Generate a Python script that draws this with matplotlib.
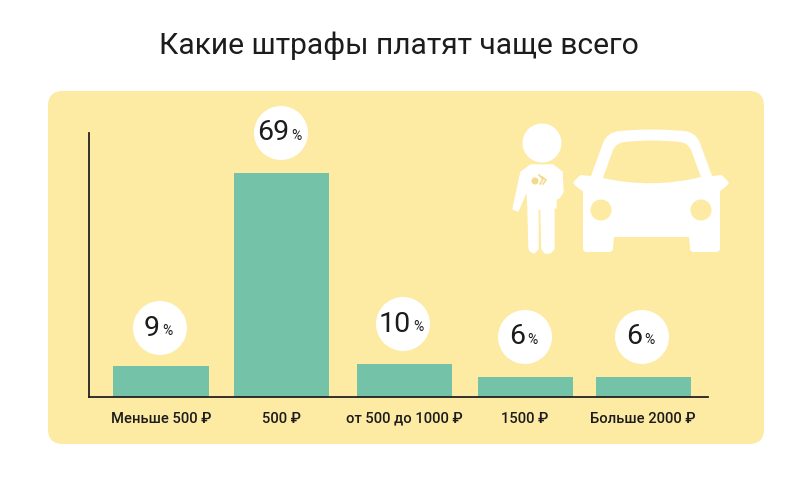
import matplotlib
matplotlib.use('Agg')
import matplotlib.pyplot as plt
from matplotlib.patches import FancyBboxPatch, Circle, Polygon, PathPatch
from matplotlib.path import Path

plt.rcParams['font.family'] = ['Roboto', 'DejaVu Sans']

categories = ['Меньше 500 ₽', '500 ₽', 'от 500 до 1000 ₽', '1500 ₽', 'Больше 2000 ₽']
values = [9, 69, 10, 6, 6]
# bar lengths as drawn in the picture, slightly off the printed numbers
bar_heights = [9.4, 68.8, 10.2, 6.2, 6.2]
bar_x = [161, 281, 404, 525, 643]
bubble_x = [160, 281, 403, 525, 642]
bubble_y = [328, 133, 324, 337, 337]

panel_color = '#fdeaa3'
bar_color = '#74c2a8'
text_color = '#1c1c1c'

fig = plt.figure(figsize=(8, 4.97), dpi=100, facecolor='white')

# whole figure in pixels, for the panel and the picture
bg = fig.add_axes([0, 0, 1, 1])
bg.set_xlim(0, 800)
bg.set_ylim(497, 0)
bg.axis('off')

bg.add_patch(FancyBboxPatch((48, 91), 716, 353, boxstyle='round,pad=0,rounding_size=15',
                            fc=panel_color, ec='none'))
bg.text(399, 46, 'Какие штрафы платят чаще всего', fontsize=21.6, color=text_color,
        ha='center', va='center')

# person
bg.add_patch(Circle((542, 143), 19.5, fc='white', ec='none'))
body = [(531, 165), (553, 165), (562, 172), (563, 192), (559, 198), (556, 199), (556, 208),
        (554, 208), (554, 249), (550, 253), (545, 253), (542, 249), (541, 209), (538, 209),
        (538, 249), (534, 253), (530, 251), (529, 248), (528, 208), (527, 190), (518, 211),
        (513, 209), (521, 172)]
bg.add_patch(Polygon(body, closed=True, fc='white', ec='white', lw=1, joinstyle='round'))
bg.add_patch(Circle((535, 181), 3.5, fc='#f5d98a', ec='none'))
bg.plot([539, 543, 540], [175, 179, 184], color='#f5d98a', lw=1.2)
bg.plot([542, 546, 543], [177, 180, 184], color='#f5d98a', lw=1.2)

# car
M, L, C, Z = Path.MOVETO, Path.LINETO, Path.CURVE3, Path.CLOSEPOLY
car_pts = [(591, 176), (603, 143), (607, 132), (620, 131), (651, 128), (684, 131), (696, 132),
           (700, 143), (712, 176),
           (721, 175), (725, 177), (729, 183), (724, 189), (720, 191), (720, 248), (720, 252),
           (716, 252), (694, 252), (690, 252), (690, 248), (689, 237), (614, 237), (613, 248),
           (613, 252), (609, 252), (587, 252), (583, 252), (583, 248), (583, 191), (578, 189),
           (573, 183), (577, 177), (581, 175), (591, 176)]
car_codes = [M, L, C, C, C, C, C, C, L, L, C, C, C, C, L, C, C, L, C, C, L, L, L, C, C, L, C, C,
             L, C, C, C, C, Z]
bg.add_patch(PathPatch(Path(car_pts, car_codes), fc='white', ec='none'))
win_pts = [(603, 178), (613, 150), (616, 143), (625, 142), (652, 139), (680, 142), (688, 143),
           (691, 150), (701, 177), (652, 189), (603, 178)]
win_codes = [M, L, C, C, C, C, C, C, L, C, C]
bg.add_patch(PathPatch(Path(win_pts, win_codes), fc=panel_color, ec='none'))
bg.add_patch(Circle((601, 210), 10.5, fc=panel_color, ec='none'))
bg.add_patch(Circle((701, 210), 10.5, fc=panel_color, ec='none'))

# bars, axes rectangle is x 89-708 and y 133-397 px
ax = fig.add_axes([89 / 800, 1 - 397 / 497, (708 - 89) / 800, (397 - 133) / 497])
ax.patch.set_alpha(0)
ax.set_xlim(89, 708)
ax.set_ylim(0, 264 / 3.26)
ax.bar(bar_x, bar_heights, width=95, color=bar_color)

for side in ['top', 'right']:
    ax.spines[side].set_visible(False)
ax.spines['left'].set_color('#222222')
ax.spines['bottom'].set_color('#222222')
ax.spines['left'].set_linewidth(1.3)
ax.spines['bottom'].set_linewidth(1.3)
ax.set_yticks([])
ax.set_xticks(bar_x)
ax.set_xticklabels(categories, fontsize=10.6, color=text_color, fontweight='medium')
ax.tick_params(axis='x', length=0, pad=10.5)

# white bubbles over the bars
for cx, cy, v in zip(bubble_x, bubble_y, values):
    bg.add_patch(Circle((cx, cy), 27, fc='white', ec='none', zorder=5))
    right = cx + 8 if v >= 10 else cx
    bg.text(right, cy, str(v), fontsize=20.5, color=text_color, ha='right', va='center', zorder=6)
    bg.text(right + 2, cy + 3, '%', fontsize=10, color=text_color, ha='left', va='center', zorder=6)

fig.savefig('out.png', dpi=100, facecolor='white')
